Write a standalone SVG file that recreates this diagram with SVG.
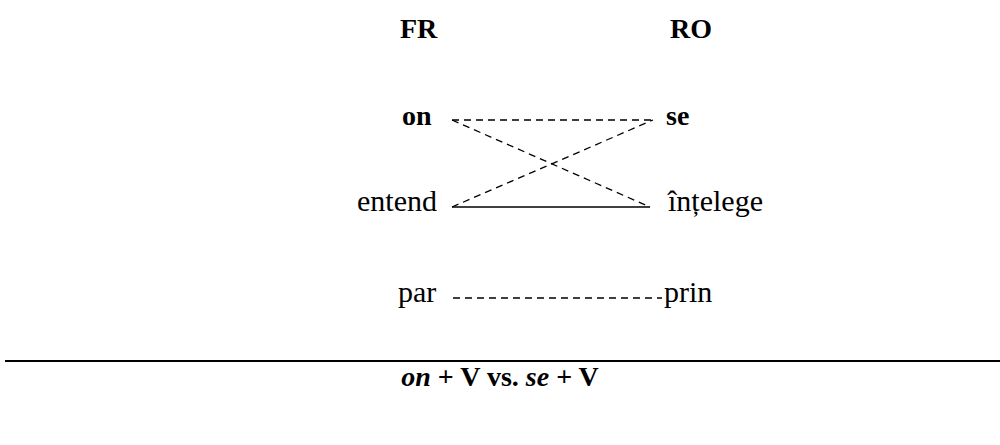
<svg xmlns="http://www.w3.org/2000/svg" width="1000" height="445" viewBox="0 0 1000 445">
<style>
text{font-family:'Liberation Serif','Times New Roman',serif;font-size:30px;fill:#000}
.b{font-weight:bold;font-size:28px}
.conn line{stroke:#000;stroke-width:1.3}
.d{stroke-dasharray:7,5}
</style>
<rect width="1000" height="445" fill="#fff"/>
<g id="header-fr"><text class="b" x="400" y="38">FR</text></g>
<g id="header-ro"><text class="b" x="670" y="38">RO</text></g>
<g id="node-on"><text class="b" x="402" y="125">on</text></g>
<g id="node-se"><text class="b" x="666" y="125">se</text></g>
<g id="node-entend"><text x="357" y="211">entend</text></g>
<g id="node-intelege"><text x="668" y="211">înțelege</text></g>
<g id="node-par"><text x="398" y="302">par</text></g>
<g id="node-prin"><text x="664" y="302">prin</text></g>
<g class="conn" id="connectors">
<line class="d" x1="452" y1="120" x2="653" y2="120"/>
<line class="d" x1="452" y1="120" x2="650" y2="207"/>
<line class="d" x1="452" y1="207" x2="653" y2="120"/>
<line x1="452" y1="207" x2="650" y2="207"/>
<line class="d" x1="453" y1="298" x2="662" y2="298"/>
</g>
<line x1="5" y1="361" x2="1000" y2="361" stroke="#000" stroke-width="2"/>
<g id="caption"><text class="b" x="500" y="386" text-anchor="middle"><tspan font-style="italic">on</tspan> + V vs. <tspan font-style="italic">se</tspan> + V</text></g>
</svg>
